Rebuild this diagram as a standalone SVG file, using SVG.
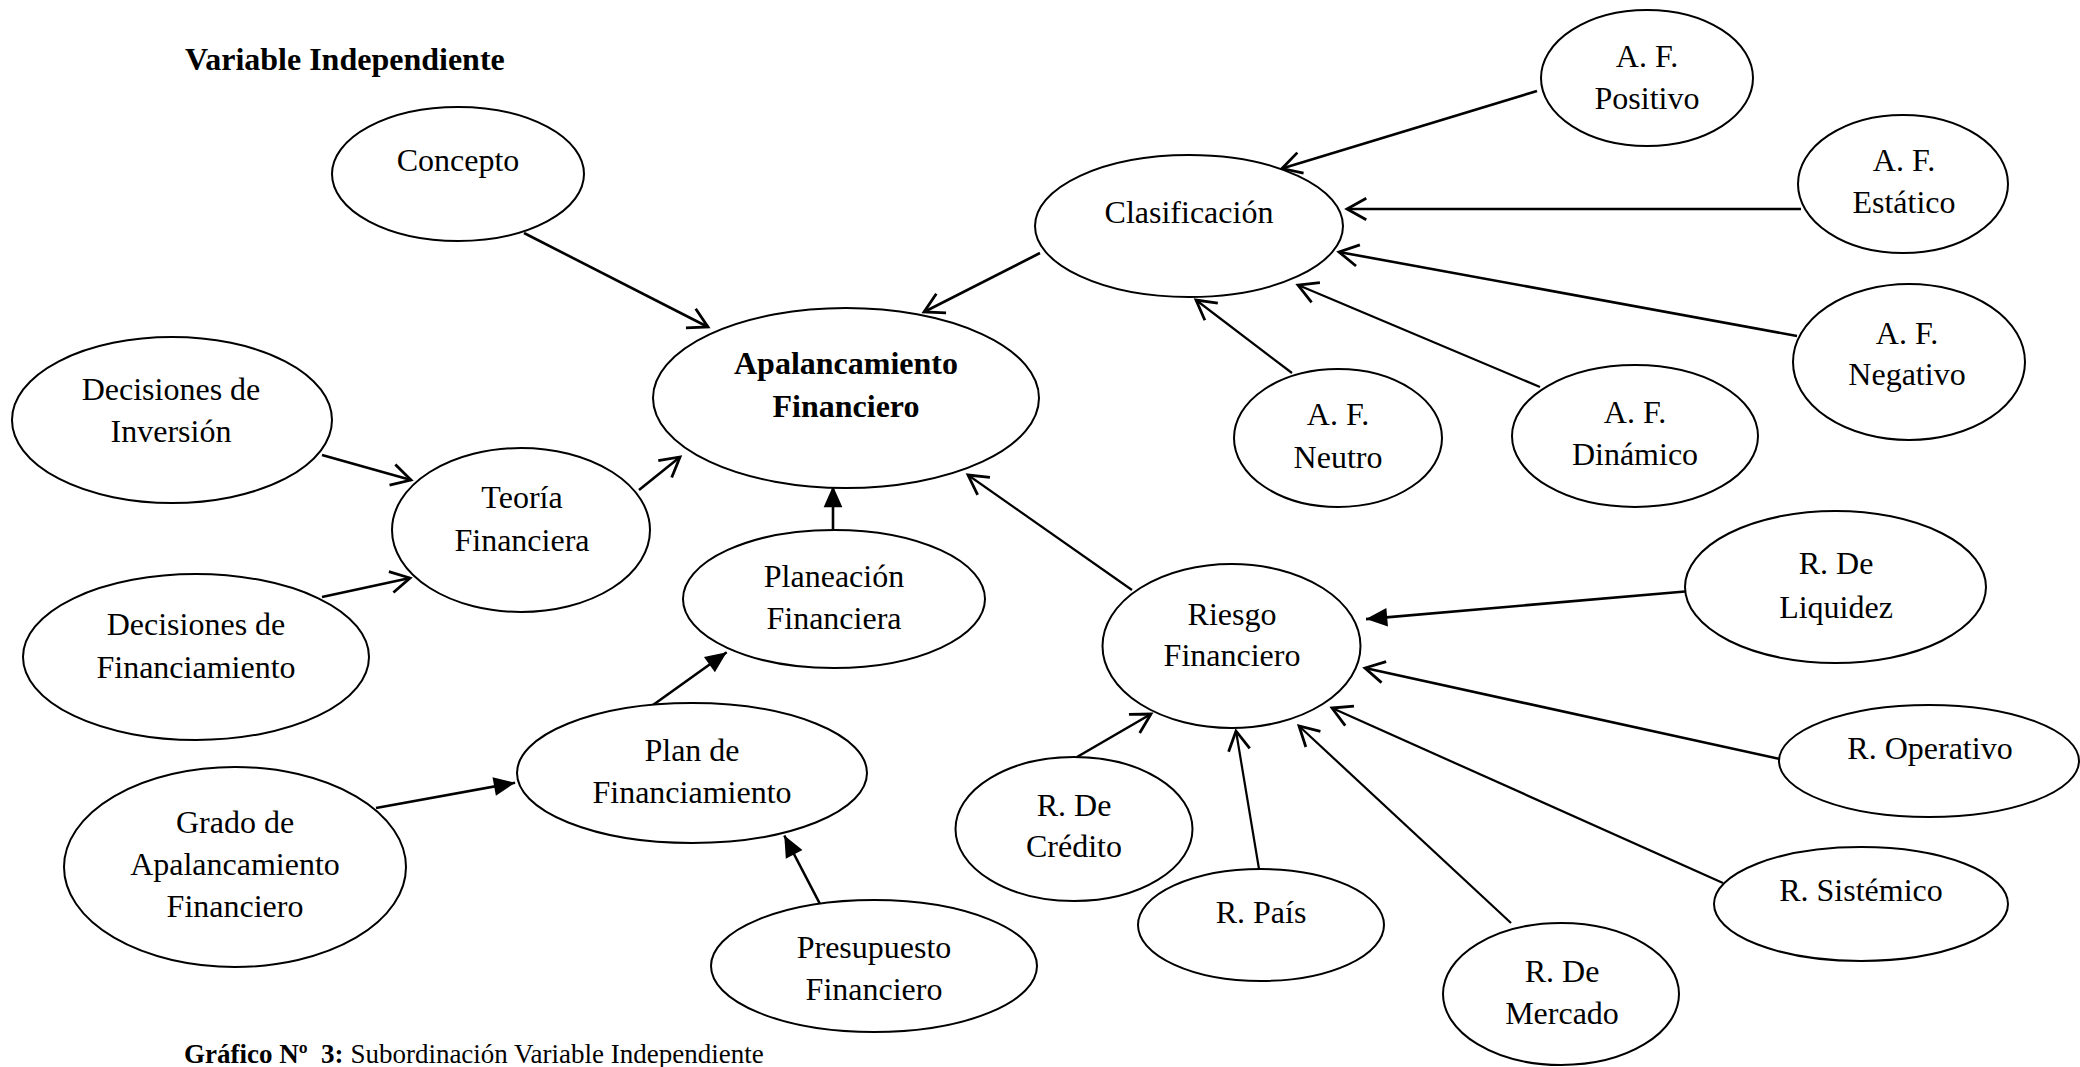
<svg xmlns="http://www.w3.org/2000/svg" width="2080" height="1067" viewBox="0 0 2080 1067">
  <style>
    .bg { fill: #ffffff; }
    .node ellipse { fill: #ffffff; stroke: #000000; stroke-width: 2; }
    .node text, .label { font-family: "Liberation Serif", "Times New Roman", serif; font-size: 32px; fill: #000000; text-anchor: middle; }
    .node text.bold { font-weight: bold; }
    .title { font-family: "Liberation Serif", "Times New Roman", serif; font-size: 32px; font-weight: bold; fill: #000000; }
    .caption { font-family: "Liberation Serif", "Times New Roman", serif; font-size: 27px; fill: #000000; }
    .edge { stroke: #000000; stroke-width: 2.6; fill: none; }
    .edge.thin { stroke-width: 2.2; }
    .open { marker-end: url(#openArrow); }
    .solid { marker-end: url(#solidArrow); }
  </style>
  <defs>
    <marker id="openArrow" markerUnits="userSpaceOnUse" markerWidth="30" markerHeight="30" viewBox="-22 -14 26 28" refX="0" refY="0" orient="auto">
      <path d="M -18,-10 L 0,0 L -18,10" fill="none" stroke="#000000" stroke-width="2.6" stroke-linejoin="miter"/>
    </marker>
    <marker id="solidArrow" markerUnits="userSpaceOnUse" markerWidth="30" markerHeight="30" viewBox="-20 -10 24 20" refX="4" refY="0" orient="auto">
      <path d="M -13,-7.5 L 4,0 L -13,7.5 Z" fill="#000000" stroke="none"/>
    </marker>
  </defs>

  <rect class="bg" x="0" y="0" width="2080" height="1067"/>

  <text class="title" x="185" y="70">Variable Independiente</text>

  <!-- connectors -->
  <g id="connectors">
    <line class="edge open" x1="524" y1="233" x2="708" y2="327"/>
    <line class="edge open" x1="1040" y1="253" x2="924" y2="312"/>
    <line class="edge open" x1="322" y1="455" x2="411" y2="480"/>
    <line class="edge open" x1="639" y1="490" x2="680" y2="457"/>
    <line class="edge open" x1="322" y1="597" x2="410" y2="578"/>
    <line class="edge solid" x1="833" y1="529" x2="833" y2="486"/>
    <line class="edge solid" x1="653" y1="705" x2="726.7" y2="652.3"/>
    <line class="edge solid" x1="376" y1="808" x2="515.1" y2="782.7"/>
    <line class="edge solid" x1="820" y1="904" x2="784.3" y2="835.5"/>
    <line class="edge thin open" x1="1132" y1="590" x2="968" y2="475"/>
    <line class="edge open" x1="1537" y1="91" x2="1282" y2="168.5"/>
    <line class="edge open" x1="1801" y1="209" x2="1347" y2="209"/>
    <line class="edge open" x1="1797" y1="336" x2="1339" y2="252"/>
    <line class="edge thin open" x1="1540" y1="387" x2="1298" y2="285"/>
    <line class="edge thin open" x1="1292" y1="373" x2="1196" y2="300"/>
    <line class="edge solid" x1="1685" y1="591.5" x2="1366" y2="619.1"/>
    <line class="edge open" x1="1780" y1="759" x2="1365" y2="668"/>
    <line class="edge thin open" x1="1723" y1="883" x2="1332" y2="708"/>
    <line class="edge thin open" x1="1511" y1="923" x2="1299" y2="726"/>
    <line class="edge thin open" x1="1259" y1="869" x2="1236" y2="731"/>
    <line class="edge open" x1="1077" y1="757" x2="1151" y2="714"/>
  </g>

  <g id="concepto" class="node">
    <ellipse cx="458" cy="174" rx="126" ry="67"/>
    <text x="458" y="171">Concepto</text>
  </g>
  <g id="apalancamiento" class="node">
    <ellipse cx="846" cy="398" rx="193" ry="90"/>
    <text class="bold" x="846" y="374">Apalancamiento</text>
    <text class="bold" x="846" y="417">Financiero</text>
  </g>
  <g id="decisiones-inversion" class="node">
    <ellipse cx="172" cy="420" rx="160" ry="83"/>
    <text x="171" y="400">Decisiones de</text>
    <text x="171" y="442">Inversión</text>
  </g>
  <g id="teoria" class="node">
    <ellipse cx="521" cy="530" rx="129" ry="82"/>
    <text x="522" y="508">Teoría</text>
    <text x="522" y="551">Financiera</text>
  </g>
  <g id="decisiones-financiamiento" class="node">
    <ellipse cx="196" cy="657" rx="173" ry="83"/>
    <text x="196" y="635">Decisiones de</text>
    <text x="196" y="678">Financiamiento</text>
  </g>
  <g id="planeacion" class="node">
    <ellipse cx="834" cy="599" rx="151" ry="69"/>
    <text x="834" y="587">Planeación</text>
    <text x="834" y="629">Financiera</text>
  </g>
  <g id="plan" class="node">
    <ellipse cx="692" cy="773" rx="175" ry="70"/>
    <text x="692" y="761">Plan de</text>
    <text x="692" y="803">Financiamiento</text>
  </g>
  <g id="grado" class="node">
    <ellipse cx="235" cy="867" rx="171" ry="100"/>
    <text x="235" y="833">Grado de</text>
    <text x="235" y="875">Apalancamiento</text>
    <text x="235" y="917">Financiero</text>
  </g>
  <g id="presupuesto" class="node">
    <ellipse cx="874" cy="966" rx="163" ry="66"/>
    <text x="874" y="958">Presupuesto</text>
    <text x="874" y="1000">Financiero</text>
  </g>
  <g id="clasificacion" class="node">
    <ellipse cx="1189" cy="226" rx="154" ry="71"/>
    <text x="1189" y="223">Clasificación</text>
  </g>
  <g id="af-positivo" class="node">
    <ellipse cx="1647" cy="78" rx="106" ry="68"/>
    <text x="1647" y="67">A. F.</text>
    <text x="1647" y="109">Positivo</text>
  </g>
  <g id="af-estatico" class="node">
    <ellipse cx="1903" cy="184" rx="105" ry="69"/>
    <text x="1904" y="171">A. F.</text>
    <text x="1904" y="213">Estático</text>
  </g>
  <g id="af-negativo" class="node">
    <ellipse cx="1909" cy="362" rx="116" ry="78"/>
    <text x="1907" y="344">A. F.</text>
    <text x="1907" y="385">Negativo</text>
  </g>
  <g id="af-neutro" class="node">
    <ellipse cx="1338" cy="438" rx="104" ry="69"/>
    <text x="1338" y="425">A. F.</text>
    <text x="1338" y="468">Neutro</text>
  </g>
  <g id="af-dinamico" class="node">
    <ellipse cx="1635" cy="436" rx="123" ry="71"/>
    <text x="1635" y="423">A. F.</text>
    <text x="1635" y="465">Dinámico</text>
  </g>
  <g id="riesgo" class="node">
    <ellipse cx="1231.5" cy="646" rx="129" ry="82"/>
    <text x="1232" y="625">Riesgo</text>
    <text x="1232" y="666">Financiero</text>
  </g>
  <g id="r-liquidez" class="node">
    <ellipse cx="1835.5" cy="587" rx="150.5" ry="76"/>
    <text x="1836" y="574">R. De</text>
    <text x="1836" y="618">Liquidez</text>
  </g>
  <g id="r-operativo" class="node">
    <ellipse cx="1929" cy="761" rx="150" ry="56"/>
    <text x="1930" y="759">R. Operativo</text>
  </g>
  <g id="r-sistemico" class="node">
    <ellipse cx="1861" cy="904" rx="147" ry="57"/>
    <text x="1861" y="901">R. Sistémico</text>
  </g>
  <g id="r-mercado" class="node">
    <ellipse cx="1561" cy="994" rx="118" ry="71"/>
    <text x="1562" y="982">R. De</text>
    <text x="1562" y="1024">Mercado</text>
  </g>
  <g id="r-pais" class="node">
    <ellipse cx="1261" cy="925" rx="123" ry="56"/>
    <text x="1261" y="923">R. País</text>
  </g>
  <g id="r-credito" class="node">
    <ellipse cx="1074" cy="829" rx="118.5" ry="72"/>
    <text x="1074" y="816">R. De</text>
    <text x="1074" y="857">Crédito</text>
  </g>

  <text class="caption" x="184" y="1063" xml:space="preserve"><tspan font-weight="bold">Gráfico Nº  3:</tspan> Subordinación Variable Independiente</text>
</svg>
